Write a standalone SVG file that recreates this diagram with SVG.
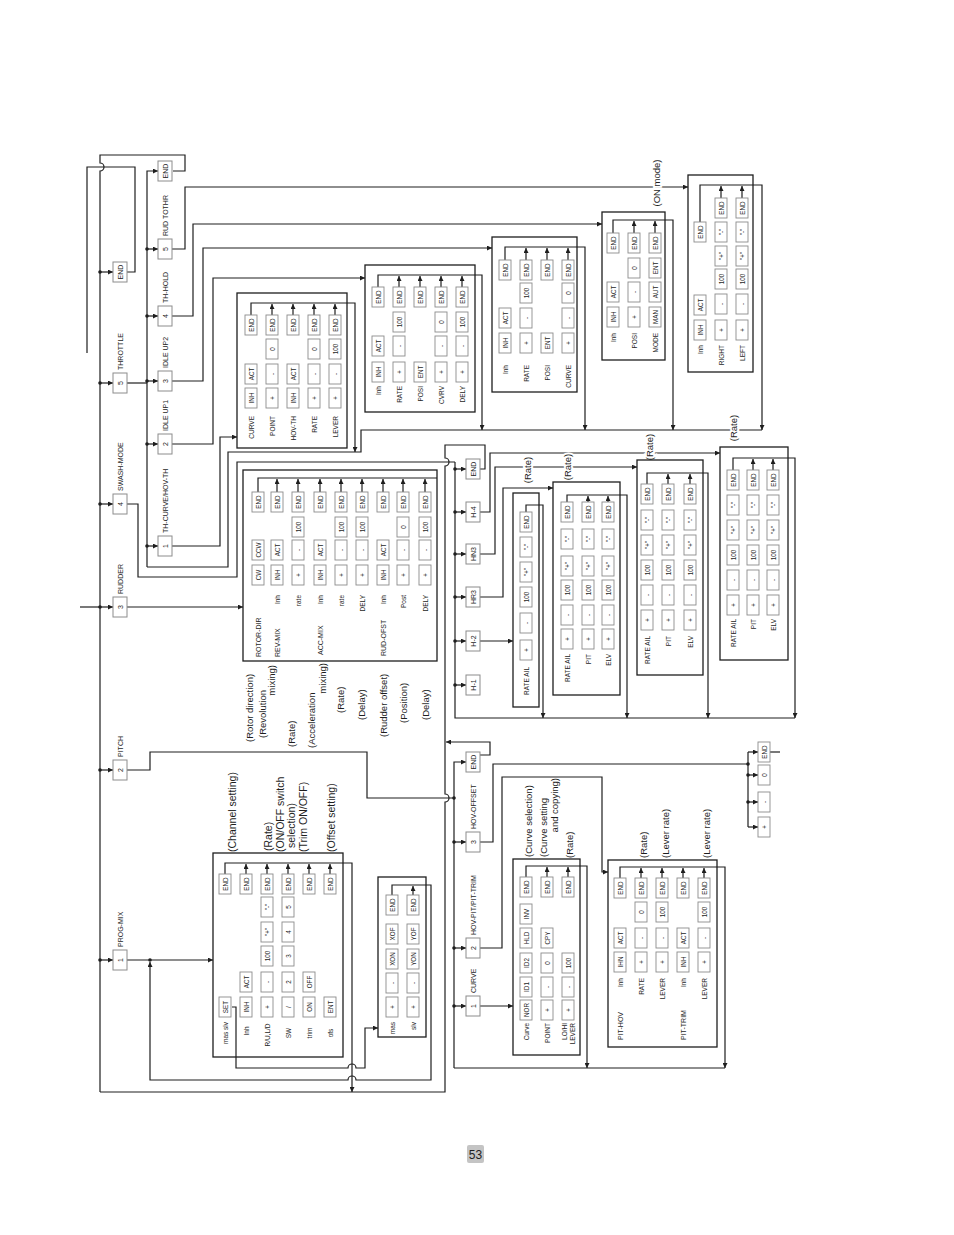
<svg xmlns="http://www.w3.org/2000/svg" width="954" height="1235" viewBox="0 0 954 1235">
<style>
.l{fill:none;stroke:#1e1e1e;stroke-width:1.2}
.bx{fill:none;stroke:#1e1e1e;stroke-width:1.3}
.k rect{fill:#fff;stroke:#8c8c8c;stroke-width:.9}
.n rect{fill:#fff;stroke:#8c8c8c;stroke-width:1}
text{font-family:"Liberation Sans",Arial,sans-serif;fill:#1e1e1e;dominant-baseline:central}
.k text{font-size:6.3px;text-anchor:middle}
.n text{font-size:7px;text-anchor:middle}
.le{font-size:6.5px;text-anchor:end}
.lm{font-size:6.5px;text-anchor:middle}
.ls{font-size:7px;text-anchor:start}
.ms{font-size:7px;text-anchor:start}
.ps{font-size:9.5px;text-anchor:start}
.pe{font-size:9.5px;text-anchor:end}
.pm{font-size:9.5px;text-anchor:middle}
.pl{font-size:10.5px;text-anchor:start}
.hl{stroke:#fff;stroke-width:4;paint-order:stroke}
.d{fill:#1e1e1e}
</style>
<defs>
<marker id="a" viewBox="0 0 10 10" refX="10" refY="5" markerUnits="userSpaceOnUse" markerWidth="6" markerHeight="5" orient="auto"><path d="M0,0L10,5L0,10z" fill="#1e1e1e"/></marker>
</defs>

<g id="connectors">
<path class="l" d="M173,171 H185 V155 H100 V163 A4,4 0 0 1 100,171 V1092"/>
<path class="l" d="M127,272 H135 V167 H87 V353"/>
<path class="l" d="M80,607 H100"/>
<path class="l" marker-end="url(#a)" d="M100,272 H113"/>
<path class="l" marker-end="url(#a)" d="M100,383 H113"/>
<path class="l" marker-end="url(#a)" d="M100,504 H113"/>
<path class="l" marker-end="url(#a)" d="M100,607 H113"/>
<path class="l" marker-end="url(#a)" d="M100,770 H113"/>
<path class="l" marker-end="url(#a)" d="M100,960 H113"/>
<path class="l" d="M127,383 H147"/>
<path class="l" d="M127,504 H138 V577 H237 V462 H455"/>
<path class="l" marker-end="url(#a)" d="M127,607 H243"/>
<path class="l" d="M127,770 H150 V752 H367 V798 H454"/>
<path class="l" marker-end="url(#a)" d="M127,960 H213"/>
<path class="l" marker-end="url(#a)" d="M147,567 V171 H158"/>
<path class="l" d="M147,567 H228 V452 H361 V430 H762"/>
<path class="l" marker-end="url(#a)" d="M147,249 H158"/>
<path class="l" marker-end="url(#a)" d="M147,316 H158"/>
<path class="l" marker-end="url(#a)" d="M147,381 H158"/>
<path class="l" marker-end="url(#a)" d="M147,444 H158"/>
<path class="l" marker-end="url(#a)" d="M147,546 H158"/>
<path class="l" marker-end="url(#a)" d="M172,249 H185 V187 H688"/>
<path class="l" marker-end="url(#a)" d="M172,316 H193 V224 H602"/>
<path class="l" marker-end="url(#a)" d="M172,381 H203 V248 H492"/>
<path class="l" marker-end="url(#a)" d="M172,444 H213 V278 H365"/>
<path class="l" marker-end="url(#a)" d="M172,546 H220 V437 H237"/>
<path class="l" marker-end="url(#a)" d="M251,315 V303 H355 V452"/>
<path class="l" marker-end="url(#a)" d="M272,315 V304"/>
<path class="l" marker-end="url(#a)" d="M293,315 V304"/>
<path class="l" marker-end="url(#a)" d="M314,315 V304"/>
<path class="l" marker-end="url(#a)" d="M335,315 V304"/>
<path class="l" marker-end="url(#a)" d="M378,287 V275 H482 V430"/>
<path class="l" marker-end="url(#a)" d="M399,287 V276"/>
<path class="l" marker-end="url(#a)" d="M420,287 V276"/>
<path class="l" marker-end="url(#a)" d="M441,287 V276"/>
<path class="l" marker-end="url(#a)" d="M462,287 V276"/>
<path class="l" marker-end="url(#a)" d="M505,260 V247 H585 V430"/>
<path class="l" marker-end="url(#a)" d="M526,260 V248"/>
<path class="l" marker-end="url(#a)" d="M547,260 V248"/>
<path class="l" marker-end="url(#a)" d="M568,260 V248"/>
<path class="l" marker-end="url(#a)" d="M613,233 V220 H673 V430"/>
<path class="l" marker-end="url(#a)" d="M634,233 V221"/>
<path class="l" marker-end="url(#a)" d="M655,233 V221"/>
<path class="l" marker-end="url(#a)" d="M700,222 V185 H762 V430"/>
<path class="l" marker-end="url(#a)" d="M721,198 V186"/>
<path class="l" marker-end="url(#a)" d="M742,198 V186"/>
<path class="l" d="M258,492 V478 H437"/>
<path class="l" marker-end="url(#a)" d="M277,492 V479"/>
<path class="l" marker-end="url(#a)" d="M298,492 V479"/>
<path class="l" marker-end="url(#a)" d="M320,492 V479"/>
<path class="l" marker-end="url(#a)" d="M341,492 V479"/>
<path class="l" marker-end="url(#a)" d="M362,492 V479"/>
<path class="l" marker-end="url(#a)" d="M383,492 V479"/>
<path class="l" marker-end="url(#a)" d="M403,492 V479"/>
<path class="l" marker-end="url(#a)" d="M425,492 V479"/>
<path class="l" d="M455,462 V718 H795"/>
<path class="l" marker-end="url(#a)" d="M455,469 H466"/>
<path class="l" marker-end="url(#a)" d="M455,512 H466"/>
<path class="l" marker-end="url(#a)" d="M455,554 H466"/>
<path class="l" marker-end="url(#a)" d="M455,597 H466"/>
<path class="l" marker-end="url(#a)" d="M455,641 H466"/>
<path class="l" marker-end="url(#a)" d="M455,685 H466"/>
<path class="l" d="M480,469 H485 V445 H445 V458 A4,4 0 0 1 445,466 V794 A4,4 0 0 1 445,802 V1092 H100"/>
<path class="l" marker-end="url(#a)" d="M480,512 H490 V453 H720"/>
<path class="l" marker-end="url(#a)" d="M480,554 H495 V467 H637"/>
<path class="l" marker-end="url(#a)" d="M480,597 H503 V488 H553"/>
<path class="l" marker-end="url(#a)" d="M480,641 H513"/>
<path class="l" marker-end="url(#a)" d="M526,512 V505 H543 V718"/>
<path class="l" marker-end="url(#a)" d="M567,502 V495 H627 V718"/>
<path class="l" marker-end="url(#a)" d="M588,502 V496"/>
<path class="l" marker-end="url(#a)" d="M608,502 V496"/>
<path class="l" marker-end="url(#a)" d="M647,484 V473 H708 V718"/>
<path class="l" marker-end="url(#a)" d="M668,484 V474"/>
<path class="l" marker-end="url(#a)" d="M690,484 V474"/>
<path class="l" marker-end="url(#a)" d="M733,470 V458 H795 V718"/>
<path class="l" marker-end="url(#a)" d="M753,470 V459"/>
<path class="l" marker-end="url(#a)" d="M773,470 V459"/>
<path class="l" marker-end="url(#a)" d="M454,1068 V762 H466"/>
<path class="l" d="M454,1068 H725"/>
<path class="l" marker-end="url(#a)" d="M454,842 H466"/>
<path class="l" marker-end="url(#a)" d="M454,948 H466"/>
<path class="l" marker-end="url(#a)" d="M454,1006 H466"/>
<path class="l" marker-end="url(#a)" d="M480,755 H490 V742 H446"/>
<path class="l" d="M480,842 H493 V764 H748"/>
<path class="l" marker-end="url(#a)" d="M480,948 H502 V777 H602 V872 H608"/>
<path class="l" marker-end="url(#a)" d="M480,1006 H513"/>
<path class="l" marker-end="url(#a)" d="M526,877 V866 H587 V1068"/>
<path class="l" marker-end="url(#a)" d="M547,877 V867"/>
<path class="l" marker-end="url(#a)" d="M568,877 V867"/>
<path class="l" marker-end="url(#a)" d="M620,878 V867 H725 V1068"/>
<path class="l" marker-end="url(#a)" d="M641,878 V868"/>
<path class="l" marker-end="url(#a)" d="M662,878 V868"/>
<path class="l" marker-end="url(#a)" d="M683,878 V868"/>
<path class="l" marker-end="url(#a)" d="M704,878 V868"/>
<path class="l" d="M748,752 V827"/>
<path class="l" marker-end="url(#a)" d="M748,752 H758"/>
<path class="l" marker-end="url(#a)" d="M748,775 H758"/>
<path class="l" marker-end="url(#a)" d="M748,802 H758"/>
<path class="l" marker-end="url(#a)" d="M748,827 H758"/>
<path class="l" d="M770,752 H780"/>
<path class="l" marker-end="url(#a)" d="M225,874 V863 H352 V1092"/>
<path class="l" marker-end="url(#a)" d="M246,874 V864"/>
<path class="l" marker-end="url(#a)" d="M267,874 V864"/>
<path class="l" marker-end="url(#a)" d="M288,874 V864"/>
<path class="l" marker-end="url(#a)" d="M309,874 V864"/>
<path class="l" marker-end="url(#a)" d="M330,874 V864"/>
<path class="l" marker-end="url(#a)" d="M232,1007 H236 V1068 H348 A4,4 0 0 1 356,1068 H365 V1028 H378"/>
<path class="l" marker-end="url(#a)" d="M392,895 V885 H431 V1080 H356 A4,4 0 0 0 348,1080 H150 V962"/>
<path class="l" marker-end="url(#a)" d="M413,895 V886"/>
<g class="d">
<circle cx="100" cy="272" r="1.8"/><circle cx="100" cy="383" r="1.8"/><circle cx="100" cy="504" r="1.8"/><circle cx="100" cy="607" r="1.8"/><circle cx="100" cy="770" r="1.8"/><circle cx="100" cy="960" r="1.8"/>
<circle cx="147" cy="249" r="1.8"/><circle cx="147" cy="316" r="1.8"/><circle cx="147" cy="381" r="1.8"/><circle cx="147" cy="444" r="1.8"/><circle cx="147" cy="546" r="1.8"/>
<circle cx="150" cy="960" r="1.8"/>
<circle cx="455" cy="469" r="1.8"/><circle cx="455" cy="512" r="1.8"/><circle cx="455" cy="554" r="1.8"/><circle cx="455" cy="597" r="1.8"/><circle cx="455" cy="641" r="1.8"/><circle cx="455" cy="685" r="1.8"/>
<circle cx="454" cy="798" r="1.8"/><circle cx="454" cy="842" r="1.8"/><circle cx="454" cy="948" r="1.8"/><circle cx="454" cy="1006" r="1.8"/>
<circle cx="748" cy="764" r="1.8"/><circle cx="748" cy="775" r="1.8"/><circle cx="748" cy="802" r="1.8"/>
</g>
</g>

<g id="main-menu">
<g class="n" transform="translate(120,272)"><rect x="-7" y="-10" width="14" height="20"/><text transform="rotate(-90)">END</text></g>
<g class="n" transform="translate(120,383)"><rect x="-7" y="-10" width="14" height="20"/><text transform="rotate(-90)">5</text></g>
<g class="n" transform="translate(120,504)"><rect x="-7" y="-10" width="14" height="20"/><text transform="rotate(-90)">4</text></g>
<g class="n" transform="translate(120,607)"><rect x="-7" y="-10" width="14" height="20"/><text transform="rotate(-90)">3</text></g>
<g class="n" transform="translate(120,770)"><rect x="-7" y="-10" width="14" height="20"/><text transform="rotate(-90)">2</text></g>
<g class="n" transform="translate(120,960)"><rect x="-7" y="-10" width="14" height="20"/><text transform="rotate(-90)">1</text></g>
<text class="ms" transform="translate(120,370) rotate(-90)">THROTTLE</text>
<text class="ms" transform="translate(120,491) rotate(-90)">SWASH-MODE</text>
<text class="ms" transform="translate(120,594) rotate(-90)">RUDDER</text>
<text class="ms" transform="translate(120,757) rotate(-90)">PITCH</text>
<text class="ms" transform="translate(120,947) rotate(-90)">PROG-MIX</text>
</g>

<g id="throttle-menu">
<g class="n" transform="translate(165,171)"><rect x="-7" y="-10" width="14" height="20"/><text transform="rotate(-90)">END</text></g>
<g class="n" transform="translate(165,249)"><rect x="-7" y="-10" width="14" height="20"/><text transform="rotate(-90)">5</text></g>
<g class="n" transform="translate(165,316)"><rect x="-7" y="-10" width="14" height="20"/><text transform="rotate(-90)">4</text></g>
<g class="n" transform="translate(165,381)"><rect x="-7" y="-10" width="14" height="20"/><text transform="rotate(-90)">3</text></g>
<g class="n" transform="translate(165,444)"><rect x="-7" y="-10" width="14" height="20"/><text transform="rotate(-90)">2</text></g>
<g class="n" transform="translate(165,546)"><rect x="-7" y="-10" width="14" height="20"/><text transform="rotate(-90)">1</text></g>
<text class="ms" transform="translate(165,236) rotate(-90)">RUD TOTHR</text>
<text class="ms" transform="translate(165,303) rotate(-90)">TH-HOLD</text>
<text class="ms" transform="translate(165,368) rotate(-90)">IDLE UP2</text>
<text class="ms" transform="translate(165,431) rotate(-90)">IDLE UP1</text>
<text class="ms" transform="translate(165,533) rotate(-90)">TH-CURVE/HOV-TH</text>
</g>

<g id="th-curve-box">
<rect class="bx" x="237" y="293" width="110" height="155"/>
<g class="k" transform="translate(251,398)"><rect x="-6" y="-10" width="12" height="20"/><text transform="rotate(-90)">INH</text></g>
<g class="k" transform="translate(251,374)"><rect x="-6" y="-10" width="12" height="20"/><text transform="rotate(-90)">ACT</text></g>
<g class="k" transform="translate(251,325)"><rect x="-6" y="-10" width="12" height="20"/><text transform="rotate(-90)">END</text></g>
<g class="k" transform="translate(272,398)"><rect x="-6" y="-10" width="12" height="20"/><text transform="rotate(-90)">+</text></g>
<g class="k" transform="translate(272,374)"><rect x="-6" y="-10" width="12" height="20"/><text transform="rotate(-90)">-</text></g>
<g class="k" transform="translate(272,349)"><rect x="-6" y="-10" width="12" height="20"/><text transform="rotate(-90)">0</text></g>
<g class="k" transform="translate(272,325)"><rect x="-6" y="-10" width="12" height="20"/><text transform="rotate(-90)">END</text></g>
<g class="k" transform="translate(293,398)"><rect x="-6" y="-10" width="12" height="20"/><text transform="rotate(-90)">INH</text></g>
<g class="k" transform="translate(293,374)"><rect x="-6" y="-10" width="12" height="20"/><text transform="rotate(-90)">ACT</text></g>
<g class="k" transform="translate(293,325)"><rect x="-6" y="-10" width="12" height="20"/><text transform="rotate(-90)">END</text></g>
<g class="k" transform="translate(314,398)"><rect x="-6" y="-10" width="12" height="20"/><text transform="rotate(-90)">+</text></g>
<g class="k" transform="translate(314,374)"><rect x="-6" y="-10" width="12" height="20"/><text transform="rotate(-90)">-</text></g>
<g class="k" transform="translate(314,349)"><rect x="-6" y="-10" width="12" height="20"/><text transform="rotate(-90)">0</text></g>
<g class="k" transform="translate(314,325)"><rect x="-6" y="-10" width="12" height="20"/><text transform="rotate(-90)">END</text></g>
<g class="k" transform="translate(335,398)"><rect x="-6" y="-10" width="12" height="20"/><text transform="rotate(-90)">+</text></g>
<g class="k" transform="translate(335,374)"><rect x="-6" y="-10" width="12" height="20"/><text transform="rotate(-90)">-</text></g>
<g class="k" transform="translate(335,349)"><rect x="-6" y="-10" width="12" height="20"/><text transform="rotate(-90)">100</text></g>
<g class="k" transform="translate(335,325)"><rect x="-6" y="-10" width="12" height="20"/><text transform="rotate(-90)">END</text></g>
<text class="le" transform="translate(251,416) rotate(-90)">CURVE</text>
<text class="le" transform="translate(272,416) rotate(-90)">POINT</text>
<text class="le" transform="translate(293,416) rotate(-90)">HOV-TH</text>
<text class="le" transform="translate(314,416) rotate(-90)">RATE</text>
<text class="le" transform="translate(335,416) rotate(-90)">LEVER</text>
</g>

<g id="idle-up1-box">
<rect class="bx" x="365" y="265" width="110" height="147"/>
<g class="k" transform="translate(378,372)"><rect x="-6" y="-10" width="12" height="20"/><text transform="rotate(-90)">INH</text></g>
<g class="k" transform="translate(378,346)"><rect x="-6" y="-10" width="12" height="20"/><text transform="rotate(-90)">ACT</text></g>
<g class="k" transform="translate(378,297)"><rect x="-6" y="-10" width="12" height="20"/><text transform="rotate(-90)">END</text></g>
<g class="k" transform="translate(399,372)"><rect x="-6" y="-10" width="12" height="20"/><text transform="rotate(-90)">+</text></g>
<g class="k" transform="translate(399,346)"><rect x="-6" y="-10" width="12" height="20"/><text transform="rotate(-90)">-</text></g>
<g class="k" transform="translate(399,322)"><rect x="-6" y="-10" width="12" height="20"/><text transform="rotate(-90)">100</text></g>
<g class="k" transform="translate(399,297)"><rect x="-6" y="-10" width="12" height="20"/><text transform="rotate(-90)">END</text></g>
<g class="k" transform="translate(420,372)"><rect x="-6" y="-10" width="12" height="20"/><text transform="rotate(-90)">ENT</text></g>
<g class="k" transform="translate(420,297)"><rect x="-6" y="-10" width="12" height="20"/><text transform="rotate(-90)">END</text></g>
<g class="k" transform="translate(441,372)"><rect x="-6" y="-10" width="12" height="20"/><text transform="rotate(-90)">+</text></g>
<g class="k" transform="translate(441,346)"><rect x="-6" y="-10" width="12" height="20"/><text transform="rotate(-90)">-</text></g>
<g class="k" transform="translate(441,322)"><rect x="-6" y="-10" width="12" height="20"/><text transform="rotate(-90)">0</text></g>
<g class="k" transform="translate(441,297)"><rect x="-6" y="-10" width="12" height="20"/><text transform="rotate(-90)">END</text></g>
<g class="k" transform="translate(462,372)"><rect x="-6" y="-10" width="12" height="20"/><text transform="rotate(-90)">+</text></g>
<g class="k" transform="translate(462,346)"><rect x="-6" y="-10" width="12" height="20"/><text transform="rotate(-90)">-</text></g>
<g class="k" transform="translate(462,322)"><rect x="-6" y="-10" width="12" height="20"/><text transform="rotate(-90)">100</text></g>
<g class="k" transform="translate(462,297)"><rect x="-6" y="-10" width="12" height="20"/><text transform="rotate(-90)">END</text></g>
<text class="le" transform="translate(378,386) rotate(-90)">Inh</text>
<text class="le" transform="translate(399,386) rotate(-90)">RATE</text>
<text class="le" transform="translate(420,386) rotate(-90)">POSI</text>
<text class="le" transform="translate(441,386) rotate(-90)">CVRV</text>
<text class="le" transform="translate(462,386) rotate(-90)">DELY</text>
</g>

<g id="idle-up2-box">
<rect class="bx" x="492" y="237" width="85" height="155"/>
<g class="k" transform="translate(505,343)"><rect x="-6" y="-10" width="12" height="20"/><text transform="rotate(-90)">INH</text></g>
<g class="k" transform="translate(505,318)"><rect x="-6" y="-10" width="12" height="20"/><text transform="rotate(-90)">ACT</text></g>
<g class="k" transform="translate(505,270)"><rect x="-6" y="-10" width="12" height="20"/><text transform="rotate(-90)">END</text></g>
<g class="k" transform="translate(526,343)"><rect x="-6" y="-10" width="12" height="20"/><text transform="rotate(-90)">+</text></g>
<g class="k" transform="translate(526,318)"><rect x="-6" y="-10" width="12" height="20"/><text transform="rotate(-90)">-</text></g>
<g class="k" transform="translate(526,293)"><rect x="-6" y="-10" width="12" height="20"/><text transform="rotate(-90)">100</text></g>
<g class="k" transform="translate(526,270)"><rect x="-6" y="-10" width="12" height="20"/><text transform="rotate(-90)">END</text></g>
<g class="k" transform="translate(547,343)"><rect x="-6" y="-10" width="12" height="20"/><text transform="rotate(-90)">ENT</text></g>
<g class="k" transform="translate(547,270)"><rect x="-6" y="-10" width="12" height="20"/><text transform="rotate(-90)">END</text></g>
<g class="k" transform="translate(568,343)"><rect x="-6" y="-10" width="12" height="20"/><text transform="rotate(-90)">+</text></g>
<g class="k" transform="translate(568,318)"><rect x="-6" y="-10" width="12" height="20"/><text transform="rotate(-90)">-</text></g>
<g class="k" transform="translate(568,293)"><rect x="-6" y="-10" width="12" height="20"/><text transform="rotate(-90)">0</text></g>
<g class="k" transform="translate(568,270)"><rect x="-6" y="-10" width="12" height="20"/><text transform="rotate(-90)">END</text></g>
<text class="le" transform="translate(505,365) rotate(-90)">Inh</text>
<text class="le" transform="translate(526,365) rotate(-90)">RATE</text>
<text class="le" transform="translate(547,365) rotate(-90)">POSI</text>
<text class="le" transform="translate(568,365) rotate(-90)">CURVE</text>
</g>

<g id="th-hold-box">
<rect class="bx" x="602" y="212" width="63" height="148"/>
<g class="k" transform="translate(613,317)"><rect x="-6" y="-10" width="12" height="20"/><text transform="rotate(-90)">INH</text></g>
<g class="k" transform="translate(613,292)"><rect x="-6" y="-10" width="12" height="20"/><text transform="rotate(-90)">ACT</text></g>
<g class="k" transform="translate(613,243)"><rect x="-6" y="-10" width="12" height="20"/><text transform="rotate(-90)">END</text></g>
<g class="k" transform="translate(634,317)"><rect x="-6" y="-10" width="12" height="20"/><text transform="rotate(-90)">+</text></g>
<g class="k" transform="translate(634,292)"><rect x="-6" y="-10" width="12" height="20"/><text transform="rotate(-90)">-</text></g>
<g class="k" transform="translate(634,268)"><rect x="-6" y="-10" width="12" height="20"/><text transform="rotate(-90)">0</text></g>
<g class="k" transform="translate(634,243)"><rect x="-6" y="-10" width="12" height="20"/><text transform="rotate(-90)">END</text></g>
<g class="k" transform="translate(655,317)"><rect x="-6" y="-10" width="12" height="20"/><text transform="rotate(-90)">MAN</text></g>
<g class="k" transform="translate(655,292)"><rect x="-6" y="-10" width="12" height="20"/><text transform="rotate(-90)">AUT</text></g>
<g class="k" transform="translate(655,268)"><rect x="-6" y="-10" width="12" height="20"/><text transform="rotate(-90)">ENT</text></g>
<g class="k" transform="translate(655,243)"><rect x="-6" y="-10" width="12" height="20"/><text transform="rotate(-90)">END</text></g>
<text class="le" transform="translate(613,333) rotate(-90)">Inh</text>
<text class="le" transform="translate(634,333) rotate(-90)">POSI</text>
<text class="le" transform="translate(655,333) rotate(-90)">MODE</text>
</g>

<g id="rud-tothr-box">
<rect class="bx" x="688" y="175" width="65" height="197"/>
<g class="k" transform="translate(700,330)"><rect x="-6" y="-10" width="12" height="20"/><text transform="rotate(-90)">INH</text></g>
<g class="k" transform="translate(700,305)"><rect x="-6" y="-10" width="12" height="20"/><text transform="rotate(-90)">ACT</text></g>
<g class="k" transform="translate(700,232)"><rect x="-6" y="-10" width="12" height="20"/><text transform="rotate(-90)">END</text></g>
<g class="k" transform="translate(721,330)"><rect x="-6" y="-10" width="12" height="20"/><text transform="rotate(-90)">+</text></g>
<g class="k" transform="translate(721,304)"><rect x="-6" y="-10" width="12" height="20"/><text transform="rotate(-90)">-</text></g>
<g class="k" transform="translate(721,279)"><rect x="-6" y="-10" width="12" height="20"/><text transform="rotate(-90)">100</text></g>
<g class="k" transform="translate(721,256)"><rect x="-6" y="-10" width="12" height="20"/><text transform="rotate(-90)">"+"</text></g>
<g class="k" transform="translate(721,232)"><rect x="-6" y="-10" width="12" height="20"/><text transform="rotate(-90)">"-"</text></g>
<g class="k" transform="translate(721,208)"><rect x="-6" y="-10" width="12" height="20"/><text transform="rotate(-90)">END</text></g>
<g class="k" transform="translate(742,330)"><rect x="-6" y="-10" width="12" height="20"/><text transform="rotate(-90)">+</text></g>
<g class="k" transform="translate(742,304)"><rect x="-6" y="-10" width="12" height="20"/><text transform="rotate(-90)">-</text></g>
<g class="k" transform="translate(742,279)"><rect x="-6" y="-10" width="12" height="20"/><text transform="rotate(-90)">100</text></g>
<g class="k" transform="translate(742,256)"><rect x="-6" y="-10" width="12" height="20"/><text transform="rotate(-90)">"+"</text></g>
<g class="k" transform="translate(742,232)"><rect x="-6" y="-10" width="12" height="20"/><text transform="rotate(-90)">"-"</text></g>
<g class="k" transform="translate(742,208)"><rect x="-6" y="-10" width="12" height="20"/><text transform="rotate(-90)">END</text></g>
<text class="le" transform="translate(700,345) rotate(-90)">Inh</text>
<text class="le" transform="translate(721,345) rotate(-90)">RIGHT</text>
<text class="le" transform="translate(742,345) rotate(-90)">LEFT</text>
</g>

<g id="rudder-box">
<rect class="bx" x="243" y="470" width="194" height="191"/>
<g class="k" transform="translate(258,575)"><rect x="-6" y="-10" width="12" height="20"/><text transform="rotate(-90)">CW</text></g>
<g class="k" transform="translate(258,550)"><rect x="-6" y="-10" width="12" height="20"/><text transform="rotate(-90)">CCW</text></g>
<g class="k" transform="translate(258,502)"><rect x="-6" y="-10" width="12" height="20"/><text transform="rotate(-90)">END</text></g>
<g class="k" transform="translate(277,575)"><rect x="-6" y="-10" width="12" height="20"/><text transform="rotate(-90)">INH</text></g>
<g class="k" transform="translate(277,550)"><rect x="-6" y="-10" width="12" height="20"/><text transform="rotate(-90)">ACT</text></g>
<g class="k" transform="translate(277,502)"><rect x="-6" y="-10" width="12" height="20"/><text transform="rotate(-90)">END</text></g>
<g class="k" transform="translate(298,575)"><rect x="-6" y="-10" width="12" height="20"/><text transform="rotate(-90)">+</text></g>
<g class="k" transform="translate(298,550)"><rect x="-6" y="-10" width="12" height="20"/><text transform="rotate(-90)">-</text></g>
<g class="k" transform="translate(298,527)"><rect x="-6" y="-10" width="12" height="20"/><text transform="rotate(-90)">100</text></g>
<g class="k" transform="translate(298,502)"><rect x="-6" y="-10" width="12" height="20"/><text transform="rotate(-90)">END</text></g>
<g class="k" transform="translate(320,575)"><rect x="-6" y="-10" width="12" height="20"/><text transform="rotate(-90)">INH</text></g>
<g class="k" transform="translate(320,550)"><rect x="-6" y="-10" width="12" height="20"/><text transform="rotate(-90)">ACT</text></g>
<g class="k" transform="translate(320,502)"><rect x="-6" y="-10" width="12" height="20"/><text transform="rotate(-90)">END</text></g>
<g class="k" transform="translate(341,575)"><rect x="-6" y="-10" width="12" height="20"/><text transform="rotate(-90)">+</text></g>
<g class="k" transform="translate(341,550)"><rect x="-6" y="-10" width="12" height="20"/><text transform="rotate(-90)">-</text></g>
<g class="k" transform="translate(341,527)"><rect x="-6" y="-10" width="12" height="20"/><text transform="rotate(-90)">100</text></g>
<g class="k" transform="translate(341,502)"><rect x="-6" y="-10" width="12" height="20"/><text transform="rotate(-90)">END</text></g>
<g class="k" transform="translate(362,575)"><rect x="-6" y="-10" width="12" height="20"/><text transform="rotate(-90)">+</text></g>
<g class="k" transform="translate(362,550)"><rect x="-6" y="-10" width="12" height="20"/><text transform="rotate(-90)">-</text></g>
<g class="k" transform="translate(362,527)"><rect x="-6" y="-10" width="12" height="20"/><text transform="rotate(-90)">100</text></g>
<g class="k" transform="translate(362,502)"><rect x="-6" y="-10" width="12" height="20"/><text transform="rotate(-90)">END</text></g>
<g class="k" transform="translate(383,575)"><rect x="-6" y="-10" width="12" height="20"/><text transform="rotate(-90)">INH</text></g>
<g class="k" transform="translate(383,550)"><rect x="-6" y="-10" width="12" height="20"/><text transform="rotate(-90)">ACT</text></g>
<g class="k" transform="translate(383,502)"><rect x="-6" y="-10" width="12" height="20"/><text transform="rotate(-90)">END</text></g>
<g class="k" transform="translate(403,575)"><rect x="-6" y="-10" width="12" height="20"/><text transform="rotate(-90)">+</text></g>
<g class="k" transform="translate(403,550)"><rect x="-6" y="-10" width="12" height="20"/><text transform="rotate(-90)">-</text></g>
<g class="k" transform="translate(403,527)"><rect x="-6" y="-10" width="12" height="20"/><text transform="rotate(-90)">0</text></g>
<g class="k" transform="translate(403,502)"><rect x="-6" y="-10" width="12" height="20"/><text transform="rotate(-90)">END</text></g>
<g class="k" transform="translate(425,575)"><rect x="-6" y="-10" width="12" height="20"/><text transform="rotate(-90)">+</text></g>
<g class="k" transform="translate(425,550)"><rect x="-6" y="-10" width="12" height="20"/><text transform="rotate(-90)">-</text></g>
<g class="k" transform="translate(425,527)"><rect x="-6" y="-10" width="12" height="20"/><text transform="rotate(-90)">100</text></g>
<g class="k" transform="translate(425,502)"><rect x="-6" y="-10" width="12" height="20"/><text transform="rotate(-90)">END</text></g>
<text class="le" transform="translate(277,595) rotate(-90)">Inh</text>
<text class="le" transform="translate(298,595) rotate(-90)">rate</text>
<text class="le" transform="translate(320,595) rotate(-90)">Inh</text>
<text class="le" transform="translate(341,595) rotate(-90)">rate</text>
<text class="le" transform="translate(362,595) rotate(-90)">DELY</text>
<text class="le" transform="translate(383,595) rotate(-90)">Inh</text>
<text class="le" transform="translate(403,595) rotate(-90)">Post</text>
<text class="le" transform="translate(425,595) rotate(-90)">DELY</text>
<text class="ls" transform="translate(258,657) rotate(-90)">ROTOR-DIR</text>
<text class="ls" transform="translate(277,657) rotate(-90)">REV-MIX</text>
<text class="ls" transform="translate(320,655) rotate(-90)">ACC-MIX</text>
<text class="ls" transform="translate(383,656) rotate(-90)">RUD-OFST</text>
<text class="ps" transform="translate(249,742) rotate(-90)">(Rotor direction)</text>
<text class="ps" transform="translate(262,738) rotate(-90)">(Revolution</text>
<text class="pe" transform="translate(271,665) rotate(-90)">mixing)</text>
<text class="ps" transform="translate(291,747) rotate(-90)">(Rate)</text>
<text class="ps" transform="translate(311,748) rotate(-90)">(Acceleration</text>
<text class="pe" transform="translate(322,663) rotate(-90)">mixing)</text>
<text class="ps" transform="translate(340,713) rotate(-90)">(Rate)</text>
<text class="ps" transform="translate(361,720) rotate(-90)">(Delay)</text>
<text class="ps" transform="translate(383,737) rotate(-90)">(Rudder offset)</text>
<text class="ps" transform="translate(403,723) rotate(-90)">(Position)</text>
<text class="ps" transform="translate(425,720) rotate(-90)">(Delay)</text>
</g>

<g id="swash-menu">
<g class="n" transform="translate(473,469)"><rect x="-7" y="-10" width="14" height="20"/><text transform="rotate(-90)">END</text></g>
<g class="n" transform="translate(473,512)"><rect x="-7" y="-10" width="14" height="20"/><text transform="rotate(-90)">H-4</text></g>
<g class="n" transform="translate(473,554)"><rect x="-7" y="-10" width="14" height="20"/><text transform="rotate(-90)">HN3</text></g>
<g class="n" transform="translate(473,597)"><rect x="-7" y="-10" width="14" height="20"/><text transform="rotate(-90)">HR3</text></g>
<g class="n" transform="translate(473,641)"><rect x="-7" y="-10" width="14" height="20"/><text transform="rotate(-90)">H-2</text></g>
<g class="n" transform="translate(473,685)"><rect x="-7" y="-10" width="14" height="20"/><text transform="rotate(-90)">H-1</text></g>
<text class="pm hl" transform="translate(527,470) rotate(-90)">(Rate)</text>
<text class="pm hl" transform="translate(567,467) rotate(-90)">(Rate)</text>
<text class="pm hl" transform="translate(649,447) rotate(-90)">(Rate)</text>
<text class="pm hl" transform="translate(733,428) rotate(-90)">(Rate)</text>
<text class="pm hl" transform="translate(656,183) rotate(-90)">(ON mode)</text>
</g>

<g id="rate-box-1">
<rect class="bx" x="513" y="493" width="26" height="214"/>
<g class="k" transform="translate(526,650)"><rect x="-6" y="-10" width="12" height="20"/><text transform="rotate(-90)">+</text></g>
<g class="k" transform="translate(526,623)"><rect x="-6" y="-10" width="12" height="20"/><text transform="rotate(-90)">-</text></g>
<g class="k" transform="translate(526,597)"><rect x="-6" y="-10" width="12" height="20"/><text transform="rotate(-90)">100</text></g>
<g class="k" transform="translate(526,572)"><rect x="-6" y="-10" width="12" height="20"/><text transform="rotate(-90)">"+"</text></g>
<g class="k" transform="translate(526,547)"><rect x="-6" y="-10" width="12" height="20"/><text transform="rotate(-90)">"-"</text></g>
<g class="k" transform="translate(526,522)"><rect x="-6" y="-10" width="12" height="20"/><text transform="rotate(-90)">END</text></g>
<text class="le" transform="translate(526,667) rotate(-90)">RATE AIL</text>
</g>

<g id="rate-box-2">
<rect class="bx" x="553" y="482" width="67" height="213"/>
<g class="k" transform="translate(567,639)"><rect x="-6" y="-10" width="12" height="20"/><text transform="rotate(-90)">+</text></g>
<g class="k" transform="translate(567,615)"><rect x="-6" y="-10" width="12" height="20"/><text transform="rotate(-90)">-</text></g>
<g class="k" transform="translate(567,590)"><rect x="-6" y="-10" width="12" height="20"/><text transform="rotate(-90)">100</text></g>
<g class="k" transform="translate(567,566)"><rect x="-6" y="-10" width="12" height="20"/><text transform="rotate(-90)">"+"</text></g>
<g class="k" transform="translate(567,539)"><rect x="-6" y="-10" width="12" height="20"/><text transform="rotate(-90)">"-"</text></g>
<g class="k" transform="translate(567,512)"><rect x="-6" y="-10" width="12" height="20"/><text transform="rotate(-90)">END</text></g>
<g class="k" transform="translate(588,639)"><rect x="-6" y="-10" width="12" height="20"/><text transform="rotate(-90)">+</text></g>
<g class="k" transform="translate(588,615)"><rect x="-6" y="-10" width="12" height="20"/><text transform="rotate(-90)">-</text></g>
<g class="k" transform="translate(588,590)"><rect x="-6" y="-10" width="12" height="20"/><text transform="rotate(-90)">100</text></g>
<g class="k" transform="translate(588,566)"><rect x="-6" y="-10" width="12" height="20"/><text transform="rotate(-90)">"+"</text></g>
<g class="k" transform="translate(588,539)"><rect x="-6" y="-10" width="12" height="20"/><text transform="rotate(-90)">"-"</text></g>
<g class="k" transform="translate(588,512)"><rect x="-6" y="-10" width="12" height="20"/><text transform="rotate(-90)">END</text></g>
<g class="k" transform="translate(608,639)"><rect x="-6" y="-10" width="12" height="20"/><text transform="rotate(-90)">+</text></g>
<g class="k" transform="translate(608,615)"><rect x="-6" y="-10" width="12" height="20"/><text transform="rotate(-90)">-</text></g>
<g class="k" transform="translate(608,590)"><rect x="-6" y="-10" width="12" height="20"/><text transform="rotate(-90)">100</text></g>
<g class="k" transform="translate(608,566)"><rect x="-6" y="-10" width="12" height="20"/><text transform="rotate(-90)">"+"</text></g>
<g class="k" transform="translate(608,539)"><rect x="-6" y="-10" width="12" height="20"/><text transform="rotate(-90)">"-"</text></g>
<g class="k" transform="translate(608,512)"><rect x="-6" y="-10" width="12" height="20"/><text transform="rotate(-90)">END</text></g>
<text class="le" transform="translate(567,654) rotate(-90)">RATE AIL</text>
<text class="le" transform="translate(588,654) rotate(-90)">PIT</text>
<text class="le" transform="translate(608,654) rotate(-90)">ELV</text>
</g>

<g id="rate-box-3">
<rect class="bx" x="637" y="460" width="66" height="215"/>
<g class="k" transform="translate(647,620)"><rect x="-6" y="-10" width="12" height="20"/><text transform="rotate(-90)">+</text></g>
<g class="k" transform="translate(647,595)"><rect x="-6" y="-10" width="12" height="20"/><text transform="rotate(-90)">-</text></g>
<g class="k" transform="translate(647,570)"><rect x="-6" y="-10" width="12" height="20"/><text transform="rotate(-90)">100</text></g>
<g class="k" transform="translate(647,545)"><rect x="-6" y="-10" width="12" height="20"/><text transform="rotate(-90)">"+"</text></g>
<g class="k" transform="translate(647,520)"><rect x="-6" y="-10" width="12" height="20"/><text transform="rotate(-90)">"-"</text></g>
<g class="k" transform="translate(647,494)"><rect x="-6" y="-10" width="12" height="20"/><text transform="rotate(-90)">END</text></g>
<g class="k" transform="translate(668,620)"><rect x="-6" y="-10" width="12" height="20"/><text transform="rotate(-90)">+</text></g>
<g class="k" transform="translate(668,595)"><rect x="-6" y="-10" width="12" height="20"/><text transform="rotate(-90)">-</text></g>
<g class="k" transform="translate(668,570)"><rect x="-6" y="-10" width="12" height="20"/><text transform="rotate(-90)">100</text></g>
<g class="k" transform="translate(668,545)"><rect x="-6" y="-10" width="12" height="20"/><text transform="rotate(-90)">"+"</text></g>
<g class="k" transform="translate(668,520)"><rect x="-6" y="-10" width="12" height="20"/><text transform="rotate(-90)">"-"</text></g>
<g class="k" transform="translate(668,494)"><rect x="-6" y="-10" width="12" height="20"/><text transform="rotate(-90)">END</text></g>
<g class="k" transform="translate(690,620)"><rect x="-6" y="-10" width="12" height="20"/><text transform="rotate(-90)">+</text></g>
<g class="k" transform="translate(690,595)"><rect x="-6" y="-10" width="12" height="20"/><text transform="rotate(-90)">-</text></g>
<g class="k" transform="translate(690,570)"><rect x="-6" y="-10" width="12" height="20"/><text transform="rotate(-90)">100</text></g>
<g class="k" transform="translate(690,545)"><rect x="-6" y="-10" width="12" height="20"/><text transform="rotate(-90)">"+"</text></g>
<g class="k" transform="translate(690,520)"><rect x="-6" y="-10" width="12" height="20"/><text transform="rotate(-90)">"-"</text></g>
<g class="k" transform="translate(690,494)"><rect x="-6" y="-10" width="12" height="20"/><text transform="rotate(-90)">END</text></g>
<text class="le" transform="translate(647,636) rotate(-90)">RATE AIL</text>
<text class="le" transform="translate(668,636) rotate(-90)">PIT</text>
<text class="le" transform="translate(690,636) rotate(-90)">ELV</text>
</g>

<g id="rate-box-4">
<rect class="bx" x="720" y="447" width="68" height="213"/>
<g class="k" transform="translate(733,605)"><rect x="-6" y="-10" width="12" height="20"/><text transform="rotate(-90)">+</text></g>
<g class="k" transform="translate(733,580)"><rect x="-6" y="-10" width="12" height="20"/><text transform="rotate(-90)">-</text></g>
<g class="k" transform="translate(733,555)"><rect x="-6" y="-10" width="12" height="20"/><text transform="rotate(-90)">100</text></g>
<g class="k" transform="translate(733,530)"><rect x="-6" y="-10" width="12" height="20"/><text transform="rotate(-90)">"+"</text></g>
<g class="k" transform="translate(733,505)"><rect x="-6" y="-10" width="12" height="20"/><text transform="rotate(-90)">"-"</text></g>
<g class="k" transform="translate(733,480)"><rect x="-6" y="-10" width="12" height="20"/><text transform="rotate(-90)">END</text></g>
<g class="k" transform="translate(753,605)"><rect x="-6" y="-10" width="12" height="20"/><text transform="rotate(-90)">+</text></g>
<g class="k" transform="translate(753,580)"><rect x="-6" y="-10" width="12" height="20"/><text transform="rotate(-90)">-</text></g>
<g class="k" transform="translate(753,555)"><rect x="-6" y="-10" width="12" height="20"/><text transform="rotate(-90)">100</text></g>
<g class="k" transform="translate(753,530)"><rect x="-6" y="-10" width="12" height="20"/><text transform="rotate(-90)">"+"</text></g>
<g class="k" transform="translate(753,505)"><rect x="-6" y="-10" width="12" height="20"/><text transform="rotate(-90)">"-"</text></g>
<g class="k" transform="translate(753,480)"><rect x="-6" y="-10" width="12" height="20"/><text transform="rotate(-90)">END</text></g>
<g class="k" transform="translate(773,605)"><rect x="-6" y="-10" width="12" height="20"/><text transform="rotate(-90)">+</text></g>
<g class="k" transform="translate(773,580)"><rect x="-6" y="-10" width="12" height="20"/><text transform="rotate(-90)">-</text></g>
<g class="k" transform="translate(773,555)"><rect x="-6" y="-10" width="12" height="20"/><text transform="rotate(-90)">100</text></g>
<g class="k" transform="translate(773,530)"><rect x="-6" y="-10" width="12" height="20"/><text transform="rotate(-90)">"+"</text></g>
<g class="k" transform="translate(773,505)"><rect x="-6" y="-10" width="12" height="20"/><text transform="rotate(-90)">"-"</text></g>
<g class="k" transform="translate(773,480)"><rect x="-6" y="-10" width="12" height="20"/><text transform="rotate(-90)">END</text></g>
<text class="le" transform="translate(733,619) rotate(-90)">RATE AIL</text>
<text class="le" transform="translate(753,619) rotate(-90)">PIT</text>
<text class="le" transform="translate(773,619) rotate(-90)">ELV</text>
</g>

<g id="pitch-menu">
<g class="n" transform="translate(473,762)"><rect x="-7" y="-10" width="14" height="20"/><text transform="rotate(-90)">END</text></g>
<g class="n" transform="translate(473,842)"><rect x="-7" y="-10" width="14" height="20"/><text transform="rotate(-90)">3</text></g>
<g class="n" transform="translate(473,948)"><rect x="-7" y="-10" width="14" height="20"/><text transform="rotate(-90)">2</text></g>
<g class="n" transform="translate(473,1006)"><rect x="-7" y="-10" width="14" height="20"/><text transform="rotate(-90)">1</text></g>
<text class="ms" transform="translate(473,829) rotate(-90)">HOV-OFFSET</text>
<text class="ms" transform="translate(473,935) rotate(-90)">HOV-PIT/PIT-TRIM</text>
<text class="ms" transform="translate(473,993) rotate(-90)">CURVE</text>
</g>

<g id="hov-offset">
<g class="k" transform="translate(764,752)"><rect x="-6" y="-10" width="12" height="20"/><text transform="rotate(-90)">END</text></g>
<g class="k" transform="translate(764,775)"><rect x="-6" y="-10" width="12" height="20"/><text transform="rotate(-90)">0</text></g>
<g class="k" transform="translate(764,802)"><rect x="-6" y="-10" width="12" height="20"/><text transform="rotate(-90)">-</text></g>
<g class="k" transform="translate(764,827)"><rect x="-6" y="-10" width="12" height="20"/><text transform="rotate(-90)">+</text></g>
</g>

<g id="curve-box">
<rect class="bx" x="513" y="859" width="67" height="196"/>
<g class="k" transform="translate(526,1010)"><rect x="-6" y="-10" width="12" height="20"/><text transform="rotate(-90)">NOR</text></g>
<g class="k" transform="translate(526,987)"><rect x="-6" y="-10" width="12" height="20"/><text transform="rotate(-90)">ID1</text></g>
<g class="k" transform="translate(526,963)"><rect x="-6" y="-10" width="12" height="20"/><text transform="rotate(-90)">ID2</text></g>
<g class="k" transform="translate(526,938)"><rect x="-6" y="-10" width="12" height="20"/><text transform="rotate(-90)">HLD</text></g>
<g class="k" transform="translate(526,914)"><rect x="-6" y="-10" width="12" height="20"/><text transform="rotate(-90)">INV</text></g>
<g class="k" transform="translate(526,887)"><rect x="-6" y="-10" width="12" height="20"/><text transform="rotate(-90)">END</text></g>
<g class="k" transform="translate(547,1010)"><rect x="-6" y="-10" width="12" height="20"/><text transform="rotate(-90)">+</text></g>
<g class="k" transform="translate(547,987)"><rect x="-6" y="-10" width="12" height="20"/><text transform="rotate(-90)">-</text></g>
<g class="k" transform="translate(547,963)"><rect x="-6" y="-10" width="12" height="20"/><text transform="rotate(-90)">0</text></g>
<g class="k" transform="translate(547,938)"><rect x="-6" y="-10" width="12" height="20"/><text transform="rotate(-90)">CPY</text></g>
<g class="k" transform="translate(547,887)"><rect x="-6" y="-10" width="12" height="20"/><text transform="rotate(-90)">END</text></g>
<g class="k" transform="translate(568,1010)"><rect x="-6" y="-10" width="12" height="20"/><text transform="rotate(-90)">+</text></g>
<g class="k" transform="translate(568,987)"><rect x="-6" y="-10" width="12" height="20"/><text transform="rotate(-90)">-</text></g>
<g class="k" transform="translate(568,963)"><rect x="-6" y="-10" width="12" height="20"/><text transform="rotate(-90)">100</text></g>
<g class="k" transform="translate(568,887)"><rect x="-6" y="-10" width="12" height="20"/><text transform="rotate(-90)">END</text></g>
<text class="le" transform="translate(526,1023) rotate(-90)">Curve</text>
<text class="le" transform="translate(547,1023) rotate(-90)">POINT</text>
<text class="le" transform="translate(564,1023) rotate(-90)">LO/HI</text>
<text class="le" transform="translate(572,1023) rotate(-90)">LEVER</text>
<text class="ps" transform="translate(528,857) rotate(-90)">(Curve selection)</text>
<text class="ps" transform="translate(543,857) rotate(-90)">(Curve setting</text>
<text class="pe" transform="translate(554,778) rotate(-90)">and copying)</text>
<text class="ps" transform="translate(569,858) rotate(-90)">(Rate)</text>
</g>

<g id="pit-hov-box">
<rect class="bx" x="608" y="860" width="109" height="187"/>
<g class="k" transform="translate(620,962)"><rect x="-6" y="-10" width="12" height="20"/><text transform="rotate(-90)">IHN</text></g>
<g class="k" transform="translate(620,938)"><rect x="-6" y="-10" width="12" height="20"/><text transform="rotate(-90)">ACT</text></g>
<g class="k" transform="translate(620,888)"><rect x="-6" y="-10" width="12" height="20"/><text transform="rotate(-90)">END</text></g>
<g class="k" transform="translate(641,962)"><rect x="-6" y="-10" width="12" height="20"/><text transform="rotate(-90)">+</text></g>
<g class="k" transform="translate(641,938)"><rect x="-6" y="-10" width="12" height="20"/><text transform="rotate(-90)">-</text></g>
<g class="k" transform="translate(641,912)"><rect x="-6" y="-10" width="12" height="20"/><text transform="rotate(-90)">0</text></g>
<g class="k" transform="translate(641,888)"><rect x="-6" y="-10" width="12" height="20"/><text transform="rotate(-90)">END</text></g>
<g class="k" transform="translate(662,962)"><rect x="-6" y="-10" width="12" height="20"/><text transform="rotate(-90)">+</text></g>
<g class="k" transform="translate(662,938)"><rect x="-6" y="-10" width="12" height="20"/><text transform="rotate(-90)">-</text></g>
<g class="k" transform="translate(662,912)"><rect x="-6" y="-10" width="12" height="20"/><text transform="rotate(-90)">100</text></g>
<g class="k" transform="translate(662,888)"><rect x="-6" y="-10" width="12" height="20"/><text transform="rotate(-90)">END</text></g>
<g class="k" transform="translate(683,962)"><rect x="-6" y="-10" width="12" height="20"/><text transform="rotate(-90)">INH</text></g>
<g class="k" transform="translate(683,938)"><rect x="-6" y="-10" width="12" height="20"/><text transform="rotate(-90)">ACT</text></g>
<g class="k" transform="translate(683,888)"><rect x="-6" y="-10" width="12" height="20"/><text transform="rotate(-90)">END</text></g>
<g class="k" transform="translate(704,962)"><rect x="-6" y="-10" width="12" height="20"/><text transform="rotate(-90)">+</text></g>
<g class="k" transform="translate(704,938)"><rect x="-6" y="-10" width="12" height="20"/><text transform="rotate(-90)">-</text></g>
<g class="k" transform="translate(704,912)"><rect x="-6" y="-10" width="12" height="20"/><text transform="rotate(-90)">100</text></g>
<g class="k" transform="translate(704,888)"><rect x="-6" y="-10" width="12" height="20"/><text transform="rotate(-90)">END</text></g>
<text class="le" transform="translate(620,978) rotate(-90)">Inh</text>
<text class="le" transform="translate(641,978) rotate(-90)">RATE</text>
<text class="le" transform="translate(662,978) rotate(-90)">LEVER</text>
<text class="le" transform="translate(683,978) rotate(-90)">Inh</text>
<text class="le" transform="translate(704,978) rotate(-90)">LEVER</text>
<text class="ls" transform="translate(620,1040) rotate(-90)">PIT-HOV</text>
<text class="ls" transform="translate(683,1040) rotate(-90)">PIT-TRIM</text>
<text class="ps" transform="translate(643,858) rotate(-90)">(Rate)</text>
<text class="ps" transform="translate(665,858) rotate(-90)">(Lever rate)</text>
<text class="ps" transform="translate(706,858) rotate(-90)">(Lever rate)</text>
</g>

<g id="prog-mix-box">
<rect class="bx" x="213" y="853" width="130" height="204"/>
<g class="k" transform="translate(225,1007)"><rect x="-6" y="-10" width="12" height="20"/><text transform="rotate(-90)">SET</text></g>
<g class="k" transform="translate(225,884)"><rect x="-6" y="-10" width="12" height="20"/><text transform="rotate(-90)">END</text></g>
<g class="k" transform="translate(246,1007)"><rect x="-6" y="-10" width="12" height="20"/><text transform="rotate(-90)">INH</text></g>
<g class="k" transform="translate(246,982)"><rect x="-6" y="-10" width="12" height="20"/><text transform="rotate(-90)">ACT</text></g>
<g class="k" transform="translate(246,884)"><rect x="-6" y="-10" width="12" height="20"/><text transform="rotate(-90)">END</text></g>
<g class="k" transform="translate(267,1007)"><rect x="-6" y="-10" width="12" height="20"/><text transform="rotate(-90)">+</text></g>
<g class="k" transform="translate(267,982)"><rect x="-6" y="-10" width="12" height="20"/><text transform="rotate(-90)">-</text></g>
<g class="k" transform="translate(267,956)"><rect x="-6" y="-10" width="12" height="20"/><text transform="rotate(-90)">100</text></g>
<g class="k" transform="translate(267,932)"><rect x="-6" y="-10" width="12" height="20"/><text transform="rotate(-90)">"+"</text></g>
<g class="k" transform="translate(267,907)"><rect x="-6" y="-10" width="12" height="20"/><text transform="rotate(-90)">"-"</text></g>
<g class="k" transform="translate(267,884)"><rect x="-6" y="-10" width="12" height="20"/><text transform="rotate(-90)">END</text></g>
<g class="k" transform="translate(288,1007)"><rect x="-6" y="-10" width="12" height="20"/><text transform="rotate(-90)">/</text></g>
<g class="k" transform="translate(288,982)"><rect x="-6" y="-10" width="12" height="20"/><text transform="rotate(-90)">2</text></g>
<g class="k" transform="translate(288,956)"><rect x="-6" y="-10" width="12" height="20"/><text transform="rotate(-90)">3</text></g>
<g class="k" transform="translate(288,932)"><rect x="-6" y="-10" width="12" height="20"/><text transform="rotate(-90)">4</text></g>
<g class="k" transform="translate(288,907)"><rect x="-6" y="-10" width="12" height="20"/><text transform="rotate(-90)">5</text></g>
<g class="k" transform="translate(288,884)"><rect x="-6" y="-10" width="12" height="20"/><text transform="rotate(-90)">END</text></g>
<g class="k" transform="translate(309,1007)"><rect x="-6" y="-10" width="12" height="20"/><text transform="rotate(-90)">ON</text></g>
<g class="k" transform="translate(309,982)"><rect x="-6" y="-10" width="12" height="20"/><text transform="rotate(-90)">OFF</text></g>
<g class="k" transform="translate(309,884)"><rect x="-6" y="-10" width="12" height="20"/><text transform="rotate(-90)">END</text></g>
<g class="k" transform="translate(330,1007)"><rect x="-6" y="-10" width="12" height="20"/><text transform="rotate(-90)">ENT</text></g>
<g class="k" transform="translate(330,884)"><rect x="-6" y="-10" width="12" height="20"/><text transform="rotate(-90)">END</text></g>
<text class="lm" transform="translate(225,1033) rotate(-90)">mas slv</text>
<text class="lm" transform="translate(246,1031) rotate(-90)">Inh</text>
<text class="lm" transform="translate(267,1035) rotate(-90)">R/U,L/D</text>
<text class="lm" transform="translate(288,1033) rotate(-90)">SW</text>
<text class="lm" transform="translate(309,1033) rotate(-90)">trim</text>
<text class="lm" transform="translate(330,1033) rotate(-90)">ofs</text>
<text class="pl" transform="translate(232,852) rotate(-90)">(Channel setting)</text>
<text class="pl" transform="translate(268,851) rotate(-90)">(Rate)</text>
<text class="pl" transform="translate(280,852) rotate(-90)">(ON/OFF switch</text>
<text class="pl" transform="translate(291,848) rotate(-90)">selection)</text>
<text class="pl" transform="translate(303,852) rotate(-90)">(Trim ON/OFF)</text>
<text class="pl" transform="translate(331,852) rotate(-90)">(Offset setting)</text>
</g>

<g id="mas-slv-box">
<rect class="bx" x="378" y="877" width="48" height="160"/>
<g class="k" transform="translate(392,1007)"><rect x="-6" y="-10" width="12" height="20"/><text transform="rotate(-90)">+</text></g>
<g class="k" transform="translate(392,983)"><rect x="-6" y="-10" width="12" height="20"/><text transform="rotate(-90)">-</text></g>
<g class="k" transform="translate(392,959)"><rect x="-6" y="-10" width="12" height="20"/><text transform="rotate(-90)">XON</text></g>
<g class="k" transform="translate(392,934)"><rect x="-6" y="-10" width="12" height="20"/><text transform="rotate(-90)">XOF</text></g>
<g class="k" transform="translate(392,905)"><rect x="-6" y="-10" width="12" height="20"/><text transform="rotate(-90)">END</text></g>
<g class="k" transform="translate(413,1007)"><rect x="-6" y="-10" width="12" height="20"/><text transform="rotate(-90)">+</text></g>
<g class="k" transform="translate(413,983)"><rect x="-6" y="-10" width="12" height="20"/><text transform="rotate(-90)">-</text></g>
<g class="k" transform="translate(413,959)"><rect x="-6" y="-10" width="12" height="20"/><text transform="rotate(-90)">YON</text></g>
<g class="k" transform="translate(413,934)"><rect x="-6" y="-10" width="12" height="20"/><text transform="rotate(-90)">YOF</text></g>
<g class="k" transform="translate(413,905)"><rect x="-6" y="-10" width="12" height="20"/><text transform="rotate(-90)">END</text></g>
<text class="le" transform="translate(392,1022) rotate(-90)">mas</text>
<text class="le" transform="translate(413,1022) rotate(-90)">slv</text>
</g>

<g id="page-number">
<rect x="467" y="1145" width="17" height="18" rx="2" fill="#c4c4c4"/>
<text x="475.5" y="1154.5" style="font-size:12px;text-anchor:middle">53</text>
</g>
</svg>
